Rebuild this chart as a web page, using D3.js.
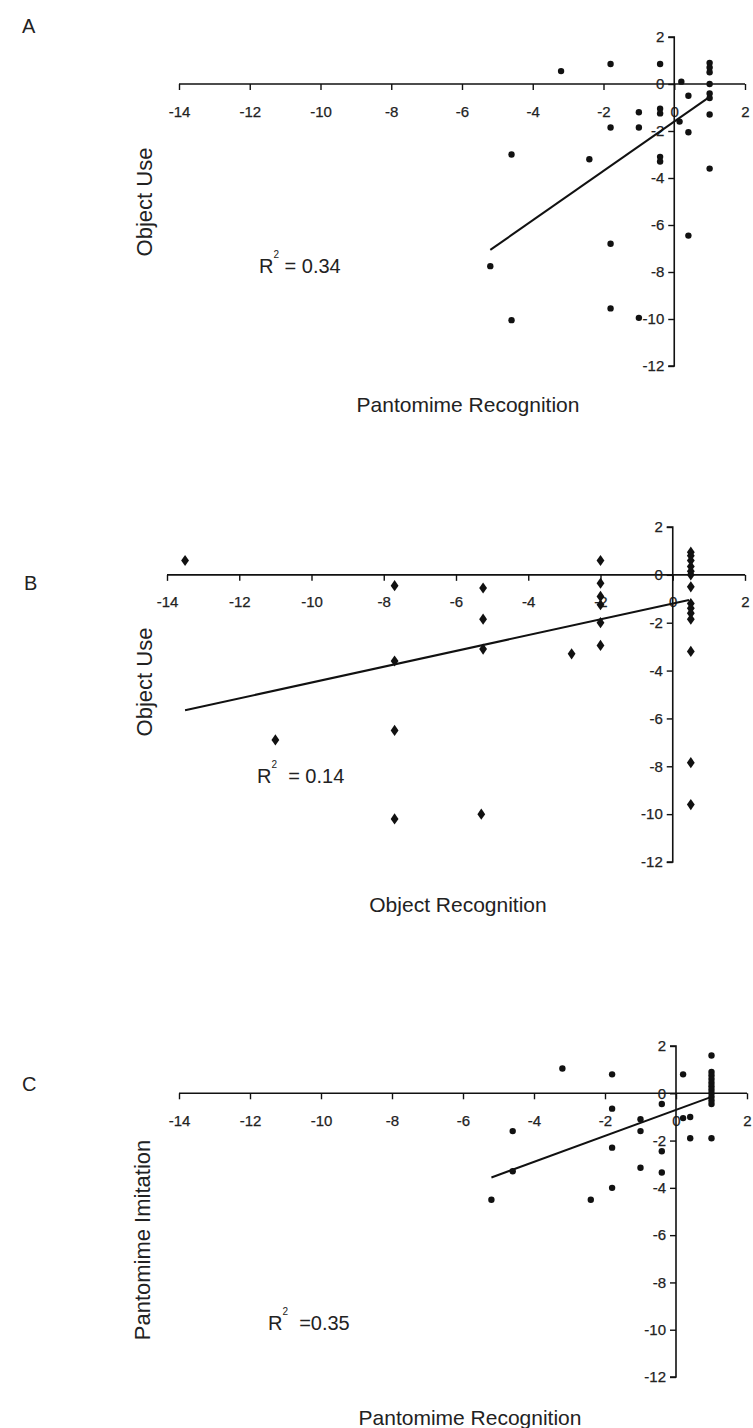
<!DOCTYPE html>
<html>
<head>
<meta charset="utf-8">
<script src="https://cdn.jsdelivr.net/npm/d3@7"></script>
<style>
  html, body { margin: 0; padding: 0; background: #fff; }
  svg { display: block; }
  text { font-family: "Liberation Sans", Arial, sans-serif; fill: #222; }
</style>
</head>
<body>
<svg id="fig" width="753" height="1428"></svg>
<script>
// Panel A: Pantomime Recognition vs Object Use
const aX = [-3.2, -1.8, -0.4, 1, 1, 1, 0.2, 1, 1, 1, 0.4, -0.4, -0.4, -1.0, 0.15, 1, -1.8, -1.0, 0.4,
            -4.6, -2.4, -0.4, -0.4, 1, -5.2, -4.6, -1.8, -1.8, -1.0, 0.4];
const aY = [0.55, 0.85, 0.85, 0.9, 0.7, 0.5, 0.1, 0, -0.4, -0.6, -0.5, -1.05, -1.25, -1.2, -1.6, -1.3, -1.85, -1.85, -2.05,
            -3.0, -3.2, -3.1, -3.3, -3.6, -7.75, -10.05, -6.8, -9.55, -9.95, -6.45];

// Panel B: Object Recognition vs Object Use
const bX = [-13.5, -7.7, -7.7, -5.25, -5.25, -5.25, -2, -2, -2, -2, -2, -2, -2.8,
            0.5, 0.5, 0.5, 0.5, 0.5, 0.5, 0.5, 0.5, 0.5, 0.5, 0.5, 0.5, 0.5, 0.5,
            -11.0, -7.7, -7.7, -5.3];
const bY = [0.6, -0.45, -3.6, -0.55, -1.85, -3.1, 0.6, -0.35, -0.9, -1.25, -2.0, -2.95, -3.3,
            0.95, 0.8, 0.6, 0.35, 0.15, 0, -0.5, -1.2, -1.4, -1.6, -1.85, -3.2, -7.85, -9.6,
            -6.9, -6.5, -10.2, -10.0];

// Panel C: Pantomime Recognition vs Pantomime Imitation
const cX = [-3.2, -1.8, 0.2, 1, 1, 1, 1, 1, 1, 1, 1, 1, 1, 1,
            -0.4, -1.8, -1.0, -4.6, -1.0, 0.2, 0.4, 0.4, 1, -1.8, -0.4, -1.0, -0.4, -1.8, -5.2, -4.6, -2.4];
const cY = [1.05, 0.8, 0.8, 1.6, 0.9, 0.75, 0.6, 0.45, 0.3, 0.15, 0, -0.15, -0.3, -0.45,
            -0.45, -0.65, -1.1, -1.6, -1.6, -1.05, -1.0, -1.9, -1.9, -2.3, -2.45, -3.15, -3.35, -4.0, -4.5, -3.3, -4.5];

// Least-squares lines: [slope, intercept], drawn over [xStart, xEnd]
const aFit = [1.05, -1.6], aFitSpan = [-5.2, 1.0];
const bFit = [0.33, -1.2], bFitSpan = [-13.5, 0.45];
const cFit = [0.55, -0.7], cFitSpan = [-5.2, 1.0];

const xTicks = [-14, -12, -10, -8, -6, -4, -2, 0, 2];
const yTicks = [2, 0, -2, -4, -6, -8, -10, -12];
const xDomain = [-14, 2];
const yDomain = [2, -12];

const panels = [
  { tag: "A", xs: aX, ys: aY, fit: aFit, span: aFitSpan, r2: "0.34", r2gap: " = ",
    xTitle: "Pantomime Recognition", yTitle: "Object Use", marker: "circle",
    xr: [179, 745], yr: [37, 366], tagPos: [22, 33],
    r2Pos: [259, 273], xTitlePos: [468, 412], yTitlePos: [152, 202] },
  { tag: "B", xs: bX, ys: bY, fit: bFit, span: bFitSpan, r2: "0.14", r2gap: "  = ",
    xTitle: "Object Recognition", yTitle: "Object Use", marker: "diamond",
    xr: [167, 745], yr: [527, 862], tagPos: [24, 590],
    r2Pos: [257, 783], xTitlePos: [458, 912], yTitlePos: [152, 682] },
  { tag: "C", xs: cX, ys: cY, fit: cFit, span: cFitSpan, r2: "0.35", r2gap: "  =",
    xTitle: "Pantomime Recognition", yTitle: "Pantomime Imitation", marker: "circle",
    xr: [179, 747], yr: [1046, 1377], tagPos: [22, 1091],
    r2Pos: [268, 1330], xTitlePos: [470, 1425], yTitlePos: [150, 1240] }
];

// plain hyphen-minus labels
const tickFmt = d => String(d);

const svg = d3.select("#fig");

panels.forEach(p => {
  const x = d3.scaleLinear().domain(xDomain).range(p.xr);
  const y = d3.scaleLinear().domain(yDomain).range(p.yr);
  const g = svg.append("g");

  // x axis through y = 0
  const xAxis = d3.axisBottom(x).tickValues(xTicks).tickSize(6).tickPadding(16).tickFormat(tickFmt);
  const gx = g.append("g").attr("transform", `translate(0,${y(0)})`).call(xAxis);
  // y axis through x = 0
  const yAxis = d3.axisLeft(y).tickValues(yTicks).tickSize(6).tickPadding(4).tickFormat(tickFmt);
  const gy = g.append("g").attr("transform", `translate(${x(0)},0)`).call(yAxis);

  [gx, gy].forEach(ax => {
    ax.select(".domain").attr("stroke", "#111").attr("stroke-width", 1.6);
    ax.selectAll(".tick line").attr("stroke", "#111").attr("stroke-width", 1.4);
    ax.selectAll(".tick text").attr("font-size", 15).attr("fill", "#222")
      .attr("stroke", "#222").attr("stroke-width", 0.25)
      .style("font-family", "'Liberation Sans', Arial, sans-serif");
  });
  gx.select(".domain").attr("d", `M${p.xr[0]},0H${p.xr[1]}`);
  gy.select(".domain").attr("d", `M-6,${p.yr[0]}H0V${p.yr[1]}H-6`);

  // fitted line
  const line = d3.line().x(d => x(d)).y(d => y(p.fit[0] * d + p.fit[1]));
  g.append("path").datum(p.span).attr("d", line)
    .attr("fill", "none").attr("stroke", "#111").attr("stroke-width", 2);

  // points
  const pts = d3.range(p.xs.length).map(i => [p.xs[i], p.ys[i]]);
  if (p.marker === "circle") {
    g.append("g").selectAll("circle").data(pts).join("circle")
      .attr("cx", d => x(d[0])).attr("cy", d => y(d[1])).attr("r", 3.2).attr("fill", "#111");
  } else {
    const sym = d3.symbol().type(d3.symbolDiamond).size(40);
    g.append("g").selectAll("path").data(pts).join("path")
      .attr("d", sym).attr("transform", d => `translate(${x(d[0])},${y(d[1])}) scale(1.15,0.95)`)
      .attr("fill", "#111");
  }

  // panel letter
  g.append("text").attr("x", p.tagPos[0]).attr("y", p.tagPos[1]).attr("font-size", 20).text(p.tag);

  // R squared annotation
  const r = g.append("text").attr("x", p.r2Pos[0]).attr("y", p.r2Pos[1]).attr("font-size", 20);
  r.append("tspan").text("R");
  r.append("tspan").attr("dy", -15).attr("font-size", 10).text("2");
  r.append("tspan").attr("dy", 15).attr("font-size", 20).style("white-space", "pre").text(p.r2gap + p.r2);

  // axis titles
  g.append("text").attr("x", p.xTitlePos[0]).attr("y", p.xTitlePos[1])
    .attr("text-anchor", "middle").attr("font-size", 21).text(p.xTitle);
  g.append("text").attr("transform", `translate(${p.yTitlePos[0]},${p.yTitlePos[1]}) rotate(-90)`)
    .attr("text-anchor", "middle").attr("font-size", 22).text(p.yTitle);
});
</script>
</body>
</html>
